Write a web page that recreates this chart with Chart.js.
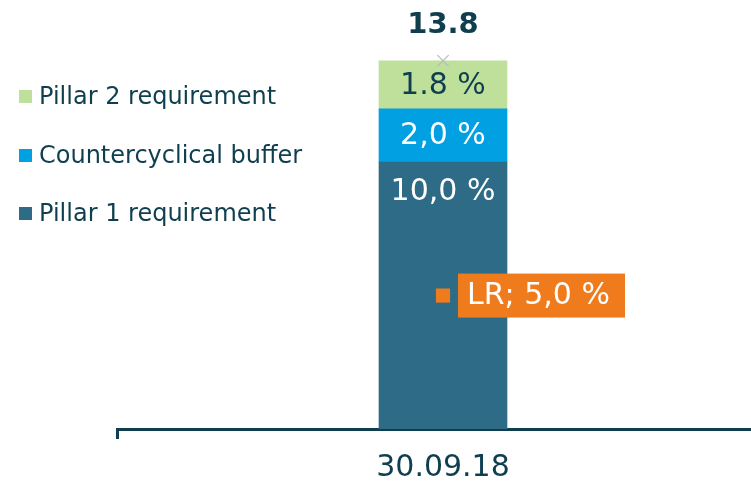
<!DOCTYPE html>
<html>
<head>
<meta charset="utf-8">
<script src="https://cdn.jsdelivr.net/npm/chart.js@4"></script>
<style>
  html, body { margin: 0; padding: 0; background: #fff; overflow: hidden; width: 751px; height: 481px; }
  #wrap { position: relative; width: 751px; height: 481px; overflow: hidden; }
  #capChart { position: absolute; left: 0; top: 0; }
  #legend { position: absolute; left: 19px; top: 0; font-family: 'DejaVu Sans', Verdana, sans-serif; font-size: 24px; color: #0f3f4f; }
  #legend .item { position: absolute; left: 0; white-space: nowrap; display: flex; align-items: center; }
  #legend .box { width: 13px; height: 13px; margin-right: 7px; }
</style>
</head>
<body>
<div id="wrap">
  <canvas id="capChart" width="779" height="497"></canvas>
  <div id="legend"></div>
</div>
<script>
  // capital requirement, per cent
  const dates = ['30.09.18'];
  const pillar1 = [10.0];
  const buffer = [2.0];
  const pillar2 = [1.8];
  const leverage = [5.0];
  const valueText = {
    pillar1: ['10,0 %'],
    buffer: ['2,0 %'],
    pillar2: ['1.8 %'],
    leverage: ['LR; 5,0 %']
  };
  const total = dates.map((d, i) => +(pillar1[i] + buffer[i] + pillar2[i]).toFixed(1));

  const DARK = '#0f3f4f';
  const colors = { pillar1: '#2e6b87', buffer: '#00a0e3', pillar2: '#bfe09a', lr: '#f07b1c' };
  const FONT = "'DejaVu Sans', Verdana, sans-serif";

  Chart.defaults.font.family = FONT;
  Chart.defaults.color = DARK;

  // in-bar values, total on top and the LR tag
  const labelPlugin = {
    id: 'valueLabels',
    afterDatasetsDraw(chart) {
      const ctx = chart.ctx;
      ctx.save();
      ctx.textBaseline = 'middle';
      chart.data.datasets.forEach((ds, di) => {
        const meta = chart.getDatasetMeta(di);
        meta.data.forEach((el, i) => {
          const key = ds.key;
          if (key === 'pillar1') {
            ctx.font = '30px ' + FONT;
            ctx.fillStyle = '#fff';
            ctx.textAlign = 'center';
            ctx.fillText(valueText.pillar1[i], el.x, el.y + 30);
          } else if (key === 'buffer' || key === 'pillar2') {
            ctx.font = '30px ' + FONT;
            ctx.fillStyle = key === 'buffer' ? '#fff' : DARK;
            ctx.textAlign = 'center';
            ctx.fillText(valueText[key][i], el.x, (el.y + el.base) / 2 + 1);
          } else if (key === 'total') {
            ctx.font = 'bold 29px ' + FONT;
            ctx.fillStyle = DARK;
            ctx.textAlign = 'center';
            ctx.fillText(total[i].toFixed(1), el.x, el.y - 35);
          } else if (key === 'lr') {
            const bx = el.x + 15, bw = 167, bh = 44;
            ctx.fillStyle = colors.lr;
            ctx.fillRect(bx, el.y - bh / 2, bw, bh);
            ctx.font = '30px ' + FONT;
            ctx.fillStyle = '#fff';
            ctx.textAlign = 'left';
            ctx.fillText(valueText.leverage[i], bx + 9, el.y + 1);
          }
        });
      });
      ctx.restore();
    }
  };

  const chart = new Chart(document.getElementById('capChart'), {
    type: 'bar',
    data: {
      labels: dates,
      datasets: [
        { key: 'pillar1', label: 'Pillar 1 requirement', data: pillar1, backgroundColor: colors.pillar1, barThickness: 128, order: 2 },
        { key: 'buffer', label: 'Countercyclical buffer', data: buffer, backgroundColor: colors.buffer, barThickness: 128, order: 2 },
        { key: 'pillar2', label: 'Pillar 2 requirement', data: pillar2, backgroundColor: colors.pillar2, barThickness: 128, order: 2 },
        { key: 'lr', type: 'line', label: 'LR', data: leverage, stack: 'lr', showLine: false,
          pointStyle: 'rect', pointRadius: 10, backgroundColor: colors.lr, borderColor: colors.lr, borderWidth: 0, order: 0 },
        { key: 'total', type: 'line', label: 'Total', data: total, stack: 'total', showLine: false,
          pointStyle: 'crossRot', pointRadius: 8, borderColor: '#b3bcbe', borderWidth: 1.2, order: 0 }
      ]
    },
    options: {
      responsive: false,
      animation: false,
      layout: { padding: { left: 117, top: 1, right: 0, bottom: 0 } },
      plugins: { legend: { display: false }, tooltip: { enabled: false } },
      scales: {
        x: {
          stacked: true,
          border: { color: DARK, width: 3 },
          grid: { offset: true, drawOnChartArea: false, drawTicks: true, tickLength: 10, color: DARK, lineWidth: 3 },
          ticks: { font: { size: 30 }, color: DARK, padding: 11 }
        },
        y: {
          stacked: true,
          display: false,
          min: 0,
          max: 15.7
        }
      }
    },
    plugins: [labelPlugin]
  });

  // legend, top row is the top of the stack
  const legend = document.getElementById('legend');
  const rows = [
    { label: 'Pillar 2 requirement', color: colors.pillar2, y: 96 },
    { label: 'Countercyclical buffer', color: colors.buffer, y: 155 },
    { label: 'Pillar 1 requirement', color: colors.pillar1, y: 213 }
  ];
  rows.forEach(r => {
    const item = document.createElement('div');
    item.className = 'item';
    item.style.top = (r.y - 15) + 'px';
    item.style.height = '30px';
    item.innerHTML = '<span class="box" style="background:' + r.color + '"></span><span>' + r.label + '</span>';
    legend.appendChild(item);
  });
</script>
</body>
</html>
